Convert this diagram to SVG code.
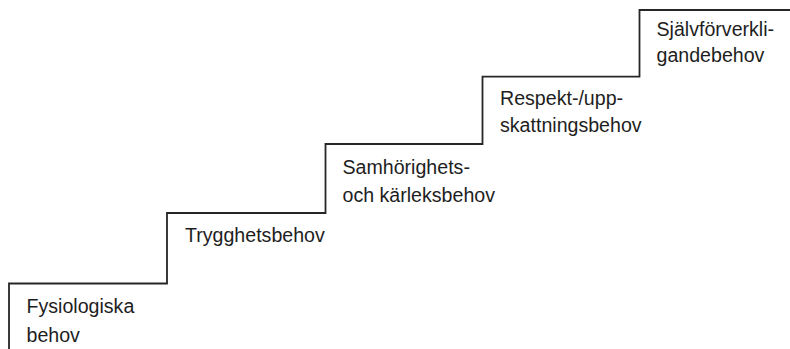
<svg xmlns="http://www.w3.org/2000/svg" width="790" height="349" viewBox="0 0 790 349">
<style>
.t{font-family:"Liberation Sans",Arial,Helvetica,sans-serif;font-size:19.6px;fill:#1e1e1e}
.stair{fill:none;stroke:#262626;stroke-width:1.8;stroke-linejoin:miter}
</style>
<rect width="790" height="349" fill="#ffffff"/>
<g id="connectors">
<polyline class="stair" points="9,349 9,283.5 167,283.5 167,213 325.5,213 325.5,144 482.5,144 482.5,76.7 639.5,76.7 639.5,10 790,10"/>
</g>
<g id="step1"><text class="t" x="26.5" y="313.3">Fysiologiska</text><text class="t" x="26.5" y="341.5">behov</text></g>
<g id="step2"><text class="t" x="185" y="241.7">Trygghetsbehov</text></g>
<g id="step3"><text class="t" x="342.5" y="173.5">Samhörighets-</text><text class="t" x="342.5" y="201.5">och kärleksbehov</text></g>
<g id="step4"><text class="t" x="500" y="105">Respekt-/upp-</text><text class="t" x="500" y="131.7">skattningsbehov</text></g>
<g id="step5"><text class="t" x="656.5" y="36">Självförverkli-</text><text class="t" x="656.5" y="62">gandebehov</text></g>
</svg>
